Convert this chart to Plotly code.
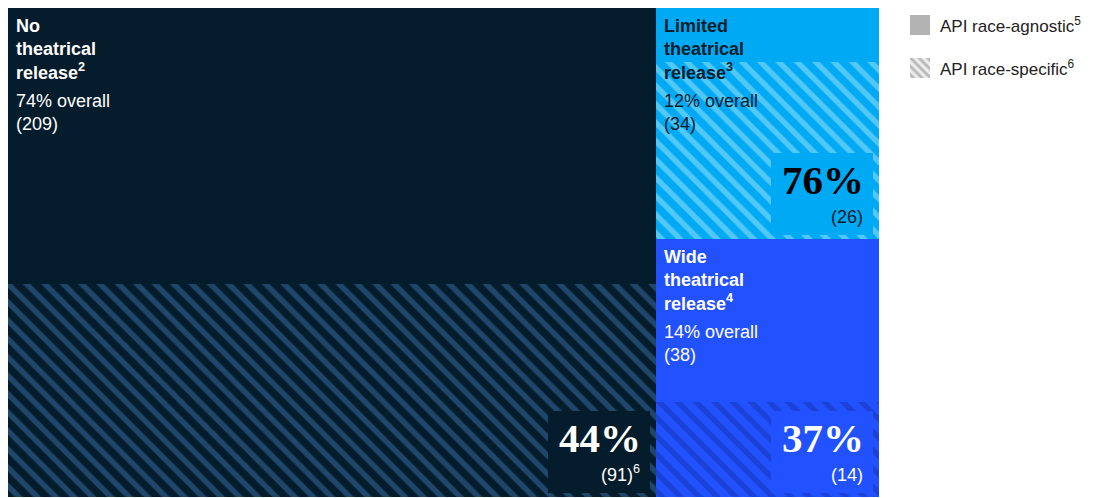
import plotly.graph_objects as go

# ---------------- data ----------------
groups = ["No<br>theatrical<br>release", "Limited<br>theatrical<br>release", "Wide<br>theatrical<br>release"]
footnotes = ["2", "3", "4"]
totals = [209, 34, 38]              # films per release type
specific_counts = [91, 26, 14]      # API race-specific
overall_pct = [74, 12, 14]
specific_pct = [44, 76, 37]
specific_note = ["6", "", ""]
legend_labels = ["API race-agnostic<sup>5</sup>", "API race-specific<sup>6</sup>"]

# ---------------- styles ----------------
base_colors = ["#051c2c", "#00a9f4", "#2251ff"]
stripe_colors = ["#1f476b", "#52c8f7", "#1b42d6"]
text_colors = ["#ffffff", "#051c2c", "#ffffff"]
pct_colors = ["#ffffff", "#000000", "#ffffff"]
SANS = "Liberation Sans, Arial, sans-serif"
SERIF = "Liberation Serif, Times New Roman, serif"

# ---------------- layout of rectangles (treemap-like) ----------------
col1_total = totals[0]
col2_total = totals[1] + totals[2]
grand = col1_total + col2_total
rects = [
    (0, col1_total, 0.0, 1.0),
    (col1_total, grand, totals[2] / col2_total, 1.0),
    (col1_total, grand, 0.0, totals[2] / col2_total),
]

fig = go.Figure()
annotations = []
for i, (x0, x1, y0, y1) in enumerate(rects):
    frac = specific_counts[i] / totals[i]
    ysplit = y0 + (y1 - y0) * frac
    cx = (x0 + x1) / 2
    w = x1 - x0
    # race-specific (hatched, bottom)
    fig.add_trace(go.Bar(
        x=[cx], width=[w], base=[y0], y=[ysplit - y0],
        marker=dict(color=base_colors[i], line=dict(width=0),
                    pattern=dict(shape="\\", size=13, solidity=0.42,
                                 fgcolor=stripe_colors[i], bgcolor=base_colors[i],
                                 fillmode="replace")),
        showlegend=False, hoverinfo="skip", xaxis="x", yaxis="y"))
    # race-agnostic (solid, top)
    fig.add_trace(go.Bar(
        x=[cx], width=[w], base=[ysplit], y=[y1 - ysplit],
        marker=dict(color=base_colors[i], line=dict(width=0)),
        showlegend=False, hoverinfo="skip", xaxis="x", yaxis="y"))

    # category title
    annotations.append(dict(
        x=x0, y=y1, xref="x", yref="y", xanchor="left", yanchor="top",
        xshift=6, yshift=-6, showarrow=False, align="left",
        text=f"<b>{groups[i]}<sup>{footnotes[i]}</sup></b>",
        font=dict(family=SANS, size=18, color=text_colors[i])))
    annotations.append(dict(
        x=x0, y=y1, xref="x", yref="y", xanchor="left", yanchor="top",
        xshift=6, yshift=-81, showarrow=False, align="left",
        text=f"{overall_pct[i]}% overall<br>({totals[i]})",
        font=dict(family=SANS, size=18, color=text_colors[i])))
    # solid box behind the percentage
    annotations.append(dict(
        x=x1, y=y0, xref="x", yref="y", xanchor="right", yanchor="bottom",
        xshift=-6, yshift=4, showarrow=False,
        width=98, height=78, borderpad=2, borderwidth=0,
        bgcolor=base_colors[i], text=" ",
        font=dict(family=SANS, size=10, color=base_colors[i])))
    # percentage
    annotations.append(dict(
        x=x1, y=y0, xref="x", yref="y", xanchor="right", yanchor="bottom",
        xshift=-13, yshift=34, showarrow=False, align="right",
        text=f"<b>{specific_pct[i]}%</b>",
        font=dict(family=SERIF, size=41, color=pct_colors[i])))
    sup = f"<sup>{specific_note[i]}</sup>" if specific_note[i] else ""
    annotations.append(dict(
        x=x1, y=y0, xref="x", yref="y", xanchor="right", yanchor="bottom",
        xshift=-14, yshift=10, showarrow=False, align="right",
        text=f"({specific_counts[i]}){sup}",
        font=dict(family=SANS, size=18, color=text_colors[i])))

# ---------------- legend drawn in an inset axis ----------------
fig.add_trace(go.Bar(
    y=[0], x=[1], orientation="h", width=[0.465],
    marker=dict(color="#b3b3b3", line=dict(width=0)),
    showlegend=False, hoverinfo="skip", xaxis="x2", yaxis="y2"))
fig.add_trace(go.Bar(
    y=[1], x=[1], orientation="h", width=[0.465],
    marker=dict(color="#ececec", line=dict(width=0),
                pattern=dict(shape="\\", size=6, solidity=0.45,
                             fgcolor="#b8b8b8", bgcolor="#ececec", fillmode="replace")),
    showlegend=False, hoverinfo="skip", xaxis="x2", yaxis="y2"))
for k, lab in enumerate(legend_labels):
    annotations.append(dict(
        x=1, y=k, xref="x2", yref="y2", xanchor="left", yanchor="middle",
        xshift=8, showarrow=False, text=lab,
        font=dict(family=SANS, size=17, color="#222222")))

W, H = 1115, 498
ml, mr, mt, mb = 8, 0, 8, 1
pw, ph = W - ml - mr, H - mt - mb

fig.update_layout(
    width=W, height=H,
    margin=dict(l=ml, r=mr, t=mt, b=mb),
    paper_bgcolor="white", plot_bgcolor="white",
    barmode="overlay", bargap=0,
    showlegend=False,
    xaxis=dict(domain=[0, 871 / pw], range=[0, grand], visible=False, fixedrange=True),
    yaxis=dict(domain=[0, 1], range=[0, 1], visible=False, fixedrange=True),
    xaxis2=dict(domain=[(910 - ml) / pw, (930 - ml) / pw], range=[0, 1],
                visible=False, anchor="y2", fixedrange=True),
    yaxis2=dict(domain=[(mt + ph - 78) / ph, (mt + ph - 15) / ph], range=[1.2326, -0.2326],
                visible=False, anchor="x2", fixedrange=True),
    annotations=annotations,
)

fig.write_html("out.html")
